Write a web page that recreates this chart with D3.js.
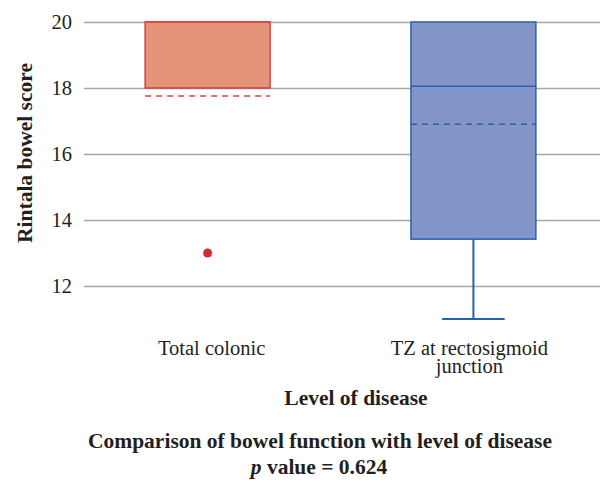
<!DOCTYPE html>
<meta charset="utf-8">
<title>Rintala bowel score by level of disease</title>
<style>
  body { margin: 0; background: #fff; }
  .grid line { stroke: #a6a6a6; stroke-width: 1.5px; }
</style>
<body>
<script src="https://cdn.jsdelivr.net/npm/d3@7"></script>
<script>

var width = 600,
    height = 480;

var serif = "Liberation Serif, DejaVu Serif, serif";

// data
var categories = ["Total colonic", "TZ at rectosigmoid junction"];
var catLines = [["Total colonic"], ["TZ at rectosigmoid", "junction"]];
var q1 = [18, 13.42];
var q3 = [20, 20];
var medians = [20, 18.05];
var means = [17.76, 16.9];
var whiskLow = [18, 11];
var whiskHigh = [20, 20];
var outliers = [[13], []];
var yTicks = [12, 14, 16, 18, 20];

var fills = ["#e59479", "#8496c9"];
var strokes = ["#d8403f", "#2561ad"];

var x = d3.scaleBand().domain(categories).range([84, 597]).paddingInner(0.53).paddingOuter(0.23);
var y = d3.scaleLinear().domain([12, 20]).range([286, 22]);

var svg = d3.select("body").append("svg")
  .attr("width", width)
  .attr("height", height);

// gridlines
var grid = svg.append("g").attr("class", "grid")
  .attr("transform", "translate(84,0)")
  .call(d3.axisLeft(y).tickValues(yTicks).tickSize(-516).tickFormat(""));
grid.select(".domain").remove();

// tick labels
svg.selectAll(".ytick").data(yTicks).enter().append("text")
  .attr("class", "ytick")
  .attr("x", 72)
  .attr("y", function(d) { return y(d); })
  .attr("dy", "0.36em")
  .attr("text-anchor", "end")
  .attr("fill", "#231f20")
  .attr("font-family", serif)
  .attr("font-size", 20.5)
  .text(function(d) { return d; });

var labelShift = [4, -4];

var boxes = svg.selectAll(".box").data(categories).enter().append("g").attr("class", "box");

boxes.each(function(d, i) {
  var g = d3.select(this);
  var cx = x(d) + x.bandwidth() / 2;
  var capW = x.bandwidth() / 2;
  // whiskers
  if (whiskLow[i] < q1[i]) {
    g.append("line").attr("x1", cx).attr("x2", cx).attr("y1", y(q1[i])).attr("y2", y(whiskLow[i]))
      .attr("stroke", strokes[i]).attr("stroke-width", 2);
    g.append("line").attr("x1", cx - capW / 2).attr("x2", cx + capW / 2).attr("y1", y(whiskLow[i])).attr("y2", y(whiskLow[i]))
      .attr("stroke", strokes[i]).attr("stroke-width", 2);
  }
  if (whiskHigh[i] > q3[i]) {
    g.append("line").attr("x1", cx).attr("x2", cx).attr("y1", y(q3[i])).attr("y2", y(whiskHigh[i]))
      .attr("stroke", strokes[i]).attr("stroke-width", 2);
    g.append("line").attr("x1", cx - capW / 2).attr("x2", cx + capW / 2).attr("y1", y(whiskHigh[i])).attr("y2", y(whiskHigh[i]))
      .attr("stroke", strokes[i]).attr("stroke-width", 2);
  }

  g.append("rect")
    .attr("x", x(d))
    .attr("y", y(q3[i]))
    .attr("width", x.bandwidth())
    .attr("height", y(q1[i]) - y(q3[i]))
    .attr("fill", fills[i])
    .attr("stroke", strokes[i])
    .attr("stroke-width", 1.5);

  g.append("line")
    .attr("x1", x(d)).attr("x2", x(d) + x.bandwidth())
    .attr("y1", y(medians[i])).attr("y2", y(medians[i]))
    .attr("stroke", strokes[i]).attr("stroke-width", 1.5);

  g.append("line")
    .attr("x1", x(d)).attr("x2", x(d) + x.bandwidth())
    .attr("y1", y(means[i])).attr("y2", y(means[i]))
    .attr("stroke", strokes[i]).attr("stroke-width", 1.5)
    .attr("stroke-dasharray", "6,5");

  g.selectAll("circle").data(outliers[i]).enter().append("circle")
    .attr("cx", cx)
    .attr("cy", function(v) { return y(v); })
    .attr("r", 4.5)
    .attr("fill", "#d12a2f");

  var t = g.append("text")
    .attr("x", cx + labelShift[i])
    .attr("y", 355)
    .attr("text-anchor", "middle")
    .attr("fill", "#231f20")
    .attr("font-family", serif)
    .attr("font-size", 20.5);
  catLines[i].forEach(function(s, k) {
    t.append("tspan").attr("x", cx + labelShift[i]).attr("dy", k === 0 ? 0 : 18).text(s);
  });
});

function title(txt, xx, yy, transform) {
  return svg.append("text")
    .attr("x", xx)
    .attr("y", yy)
    .attr("transform", transform || null)
    .attr("text-anchor", "middle")
    .attr("fill", "#231f20")
    .attr("font-family", serif)
    .attr("font-weight", "bold")
    .attr("font-size", 21.5)
    .text(txt);
}

// axis titles
title("Rintala bowel score", 0, 0, "translate(32,153) rotate(-90)");
title("Level of disease", 356, 405);
title("Comparison of bowel function with level of disease", 320, 448);

var pv = title("", 319, 474);
pv.append("tspan").attr("font-style", "italic").text("p");
pv.append("tspan").text(" value = 0.624");

</script>
</body>
